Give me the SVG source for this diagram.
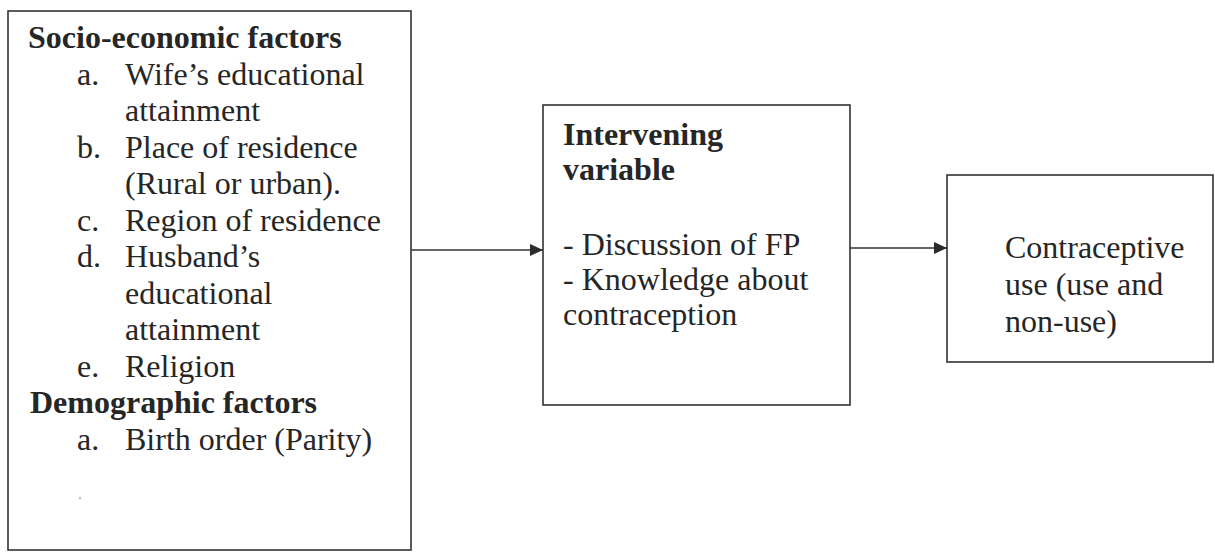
<svg xmlns="http://www.w3.org/2000/svg" width="1215" height="553" viewBox="0 0 1215 553">
<defs>
<marker id="arr" markerWidth="14" markerHeight="12" refX="13" refY="6" orient="auto" markerUnits="userSpaceOnUse">
<path d="M0,0 L13,6 L0,12 Z" fill="#2b2b2b"/>
</marker>
<style>
.box{fill:#fff;stroke:#333;stroke-width:1.6}
.t{font-family:"Liberation Serif","Times New Roman",serif;font-size:32px;fill:#262626}
.b{font-weight:bold}
.con{stroke:#333;stroke-width:1.6;fill:none}
</style>
</defs>
<rect width="1215" height="553" fill="#fff"/>
<g id="connectors">
<line class="con" x1="411" y1="250" x2="543" y2="250" marker-end="url(#arr)"/>
<line class="con" x1="850" y1="248" x2="947" y2="248" marker-end="url(#arr)"/>
</g>
<g id="factors">
<rect class="box" x="8" y="11" width="403" height="539"/>
<text class="t b" x="28" y="48">Socio-economic factors</text>
<text class="t" x="77" y="85">a.</text><text class="t" x="125" y="85">Wife’s educational</text>
<text class="t" x="125" y="121">attainment</text>
<text class="t" x="77" y="158">b.</text><text class="t" x="125" y="158">Place of residence</text>
<text class="t" x="125" y="194">(Rural or urban).</text>
<text class="t" x="77" y="231">c.</text><text class="t" x="125" y="231">Region of residence</text>
<text class="t" x="77" y="267">d.</text><text class="t" x="125" y="267">Husband’s</text>
<text class="t" x="125" y="304">educational</text>
<text class="t" x="125" y="340">attainment</text>
<text class="t" x="77" y="377">e.</text><text class="t" x="125" y="377">Religion</text>
<text class="t b" x="30" y="413">Demographic factors</text>
<text class="t" x="77" y="450">a.</text><text class="t" x="125" y="450">Birth order (Parity)</text>
<circle cx="80" cy="498" r="1.2" fill="#bbb"/>
</g>
<g id="intervening">
<rect class="box" x="543" y="105" width="307" height="300"/>
<text class="t b" x="563" y="145">Intervening</text>
<text class="t b" x="563" y="180">variable</text>
<text class="t" x="563" y="255">- Discussion of FP</text>
<text class="t" x="563" y="290">- Knowledge about</text>
<text class="t" x="563" y="325">contraception</text>
</g>
<g id="outcome">
<rect class="box" x="947" y="175" width="266" height="187"/>
<text class="t" x="1005" y="258">Contraceptive</text>
<text class="t" x="1005" y="295">use (use and</text>
<text class="t" x="1005" y="332">non-use)</text>
</g>
</svg>
